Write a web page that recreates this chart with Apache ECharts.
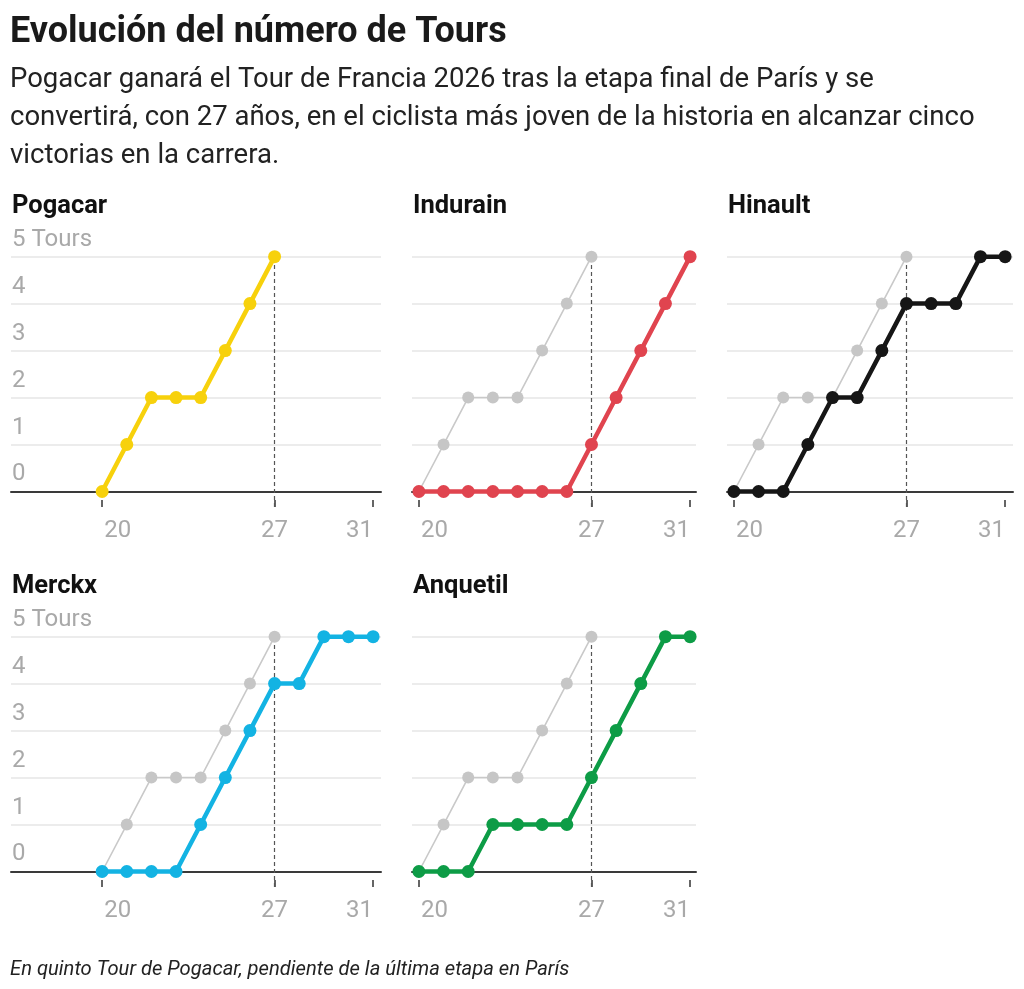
<!DOCTYPE html>
<html lang="es">
<head>
<meta charset="UTF-8">
<title>Evolución del número de Tours</title>
<script src="https://cdn.jsdelivr.net/npm/echarts@6/dist/echarts.min.js"></script>
<style>
    html, body { margin: 0; padding: 0; background: #fff; }
    #chart { width: 1024px; height: 989px; }
</style>
</head>
<body>
<div id="chart"></div>
<script>
    // edades (años) y victorias acumuladas en el Tour
    var ages = [20, 21, 22, 23, 24, 25, 26, 27, 28, 29, 30, 31];
    var pogacarTours = [0, 1, 2, 2, 2, 3, 4, 5];
    var induráinTours = [0, 0, 0, 0, 0, 0, 0, 1, 2, 3, 4, 5];
    var hinaultTours = [0, 0, 0, 1, 2, 2, 3, 4, 4, 4, 5, 5];
    var merckxTours = [0, 0, 0, 0, 1, 2, 3, 4, 4, 5, 5, 5];
    var anquetilTours = [0, 0, 0, 1, 1, 1, 1, 2, 3, 4, 5, 5];

    var xTickValues = [20, 27, 31];
    var yTickValues = [0, 1, 2, 3, 4, 5];
    var yTickLabels = ['0', '1', '2', '3', '4', '5 Tours'];
    var markAge = 27;

    var FONT = 'Roboto, "Noto Sans", sans-serif';
    var GRAY = '#a9a9a9';
    var Y_MIN = -0.33, Y_MAX = 5.12;

    var panels = [
        {name: 'Pogacar',  values: pogacarTours,  color: '#f7d10c', left: 11,  width: 370, top: 251, xMin: 16.3,  xMax: 31.32, yLabels: true,  ghost: false},
        {name: 'Indurain', values: induráinTours, color: '#e0444f', left: 412, width: 284, top: 251, xMin: 19.72, xMax: 31.24, yLabels: false, ghost: true},
        {name: 'Hinault',  values: hinaultTours,  color: '#161616', left: 727, width: 286, top: 251, xMin: 19.72, xMax: 31.32, yLabels: false, ghost: true},
        {name: 'Merckx',   values: merckxTours,   color: '#13b3e3', left: 11,  width: 370, top: 631, xMin: 16.3,  xMax: 31.32, yLabels: true,  ghost: true},
        {name: 'Anquetil', values: anquetilTours, color: '#0d9c46', left: 412, width: 284, top: 631, xMin: 19.72, xMax: 31.24, yLabels: false, ghost: true}
    ];

    function pairs(values) {
        var out = [];
        for (var i = 0; i < values.length; i++) out.push([ages[i], values[i]]);
        return out;
    }

    var titles = [
        {
            text: 'Evolución del número de Tours',
            left: 5, top: 10,
            textStyle: {fontFamily: FONT, fontSize: 36, fontWeight: 'bold', color: '#1a1a1a'}
        },
        {
            text: 'Pogacar ganará el Tour de Francia 2026 tras la etapa final de París y se\nconvertirá, con 27 años, en el ciclista más joven de la historia en alcanzar cinco\nvictorias en la carrera.',
            left: 5, top: 56,
            textStyle: {fontFamily: FONT, fontSize: 27.5, fontWeight: 'normal', color: '#222', lineHeight: 38.2}
        },
        {
            text: 'En quinto Tour de Pogacar, pendiente de la última etapa en París',
            left: 5, top: 955,
            textStyle: {fontFamily: FONT, fontSize: 20.2, fontStyle: 'italic', fontWeight: 'normal', color: '#222'}
        }
    ];
    var grids = [], xAxes = [], yAxes = [], series = [];

    panels.forEach(function (p, k) {
        titles.push({
            text: p.name,
            left: p.left - 4, top: p.top - 62,
            textStyle: {fontFamily: FONT, fontSize: 25.5, fontWeight: 'bold', color: '#111'}
        });
        grids.push({left: p.left, top: p.top, width: p.width, height: 256});

        // eje principal: línea en el cero
        xAxes.push({
            type: 'value', gridIndex: k, min: p.xMin, max: p.xMax,
            axisLine: {onZero: true, lineStyle: {color: '#3a3a3a', width: 2}},
            axisTick: {show: false}, axisLabel: {show: false}, splitLine: {show: false}
        });
        // eje secundario: marcas y etiquetas de edad
        xAxes.push({
            type: 'value', gridIndex: k, min: p.xMin, max: p.xMax, position: 'bottom',
            axisLine: {show: false, onZero: false},
            axisTick: {show: true, inside: true, length: 7, customValues: xTickValues, lineStyle: {color: '#333', width: 1.5}},
            axisLabel: {
                show: true, margin: 12, customValues: xTickValues,
                formatter: function (v) {
                    var i = xTickValues.indexOf(v);
                    if (i === 0) return '{l|' + v + '}';
                    if (i === xTickValues.length - 1) return '{r|' + v + '}';
                    return '{m|' + v + '}';
                },
                rich: {
                    l: {fontFamily: FONT, fontSize: 24, color: GRAY, width: 58, align: 'right'},
                    r: {fontFamily: FONT, fontSize: 24, color: GRAY, width: 54, align: 'left'},
                    m: {fontFamily: FONT, fontSize: 24, color: GRAY}
                }
            },
            splitLine: {show: false}
        });
        yAxes.push({
            type: 'value', gridIndex: k, min: Y_MIN, max: Y_MAX,
            axisLine: {show: false},
            axisTick: {show: false, customValues: yTickValues},
            axisLabel: {
                show: p.yLabels, inside: true, margin: 1, customValues: yTickValues,
                verticalAlign: 'bottom', padding: [0, 0, 5, 0],
                fontFamily: FONT, fontSize: 24, color: GRAY,
                formatter: function (v) { return yTickLabels[yTickValues.indexOf(v)]; }
            },
            splitLine: {show: true, lineStyle: {color: '#e6e6e6', width: 1.5}}
        });

        if (p.ghost) {
            series.push({
                type: 'line', xAxisIndex: 2 * k, yAxisIndex: k, z: 2,
                data: pairs(pogacarTours),
                symbol: 'circle', symbolSize: 12, showSymbol: true,
                lineStyle: {color: '#c9c9c9', width: 1.6},
                itemStyle: {color: '#c6c6c6'},
                silent: true, animation: false
            });
        }
        series.push({
            type: 'line', xAxisIndex: 2 * k, yAxisIndex: k, z: 3,
            data: pairs(p.values),
            symbol: 'circle', symbolSize: 13, showSymbol: true,
            lineStyle: {color: p.color, width: 4.5},
            itemStyle: {color: p.color},
            silent: true, animation: false,
            markLine: {
                silent: true, symbol: 'none', label: {show: false},
                lineStyle: {color: '#555', width: 1.2, type: [4, 3]},
                data: [{xAxis: markAge}],
                z: 1
            }
        });
    });

    var myChart = echarts.init(document.getElementById('chart'));
    myChart.setOption({
        backgroundColor: '#fff',
        animation: false,
        title: titles,
        grid: grids,
        xAxis: xAxes,
        yAxis: yAxes,
        series: series
    });
</script>
</body>
</html>
